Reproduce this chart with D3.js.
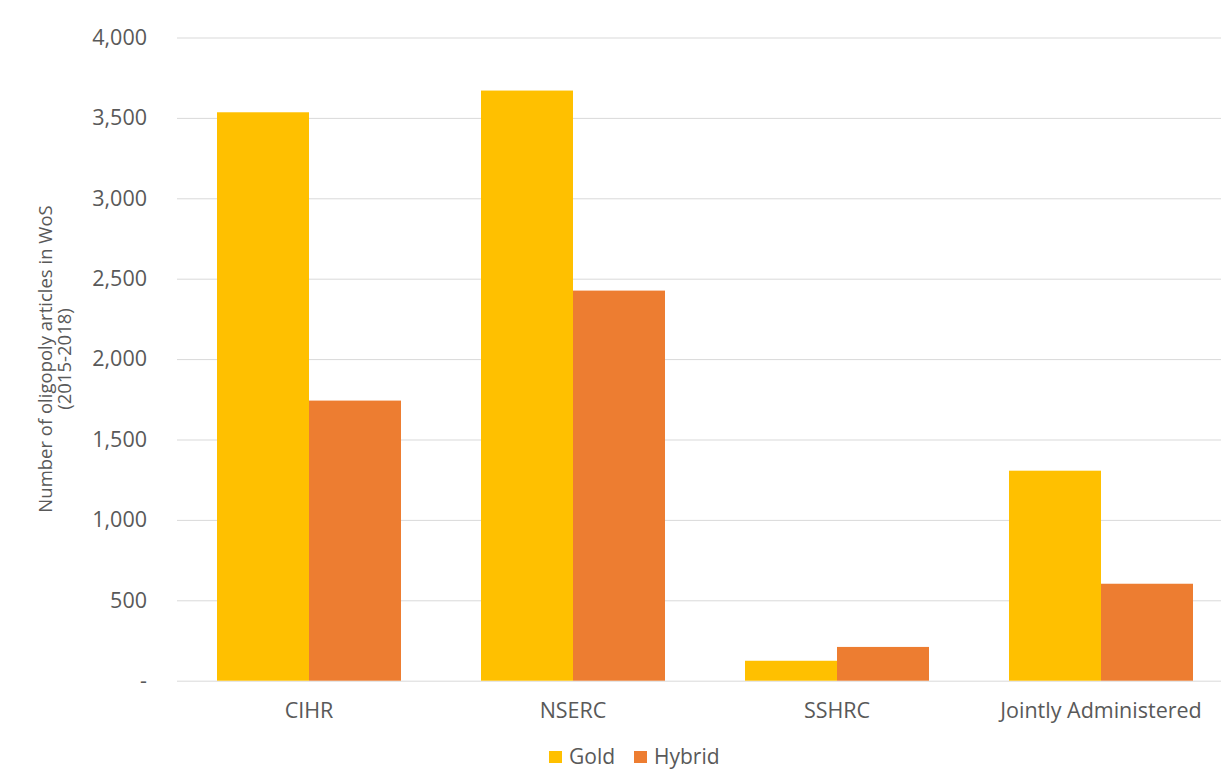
<!DOCTYPE html>
<html>
<head>
<meta charset="utf-8">
<script src="https://cdn.jsdelivr.net/npm/d3@7/dist/d3.min.js"></script>
<style>
  html, body { margin: 0; padding: 0; background: #fff; }
  svg { display: block; }
  text { font-family: "Open Sans", "Noto Sans", sans-serif; fill: #595959; }
</style>
</head>
<body>
<svg id="chart" width="1221" height="769"></svg>
<script>
const categories = ["CIHR", "NSERC", "SSHRC", "Jointly Administered"];
const seriesNames = ["Gold", "Hybrid"];
const goldValues = [3535, 3670, 124, 1306];
const hybridValues = [1742, 2426, 210, 603];
const yTicks = [0, 500, 1000, 1500, 2000, 2500, 3000, 3500, 4000];
const colors = { Gold: "#FFC000", Hybrid: "#ED7D31" };

(function () {
const svg = d3.select("#chart");
const plotLeft = 177, plotRight = 1233, plotTop = 37.5, plotBottom = 680.7;
const fs = "21.5px";

const x = d3.scaleBand().domain(categories).range([plotLeft, plotRight])
  .paddingInner(80 / 264).paddingOuter(40 / 264);
const xs = d3.scaleBand().domain(seriesNames).range([0, x.bandwidth()]);
const y = d3.scaleLinear().domain([0, 4000]).range([plotBottom, plotTop]);

const fmt = d3.format(",");
const yAxis = d3.axisLeft(y).tickValues(yTicks).tickSize(-(plotRight - plotLeft))
  .tickFormat(d => d === 0 ? "-" : fmt(d)).tickPadding(30);
const gy = svg.append("g").attr("transform", `translate(${plotLeft},0)`).call(yAxis);
gy.select(".domain").remove();
gy.selectAll(".tick line").attr("stroke", "#D9D9D9").attr("stroke-width", 1);
gy.selectAll(".tick text").style("font-size", fs).attr("fill", "#595959");

const data = categories.map((c, i) => ({ cat: c, vals: [
  { s: "Gold", v: goldValues[i] }, { s: "Hybrid", v: hybridValues[i] } ] }));
const groups = svg.append("g").selectAll("g").data(data).join("g")
  .attr("transform", d => `translate(${x(d.cat)},0)`);
groups.selectAll("rect").data(d => d.vals).join("rect")
  .attr("x", d => xs(d.s)).attr("width", xs.bandwidth())
  .attr("y", d => y(d.v)).attr("height", d => y(0) - y(d.v))
  .attr("fill", d => colors[d.s]);

const xAxis = d3.axisBottom(x).tickSize(0).tickPadding(22);
const gx = svg.append("g").attr("transform", `translate(0,${plotBottom})`).call(xAxis);
gx.select(".domain").remove();
gx.selectAll(".tick text").style("font-size", fs).attr("fill", "#595959");

const yt = svg.append("text").attr("transform", "translate(52,359) rotate(-90)")
  .attr("text-anchor", "middle").style("font-size", "18.5px");
yt.append("tspan").attr("x", 0).attr("dy", 0).text("Number of oligopoly articles in WoS");
yt.append("tspan").attr("x", 0).attr("dy", 19).text("(2015-2018)");

const legendX = [549, 634];
const lg = svg.append("g").selectAll("g").data(seriesNames).join("g")
  .attr("transform", (d, i) => `translate(${legendX[i]},751)`);
lg.append("rect").attr("width", 13).attr("height", 12).attr("fill", d => colors[d]);
lg.append("text").attr("x", 20).attr("y", 13).style("font-size", "21px").text(d => d);
})();
</script>
</body>
</html>
